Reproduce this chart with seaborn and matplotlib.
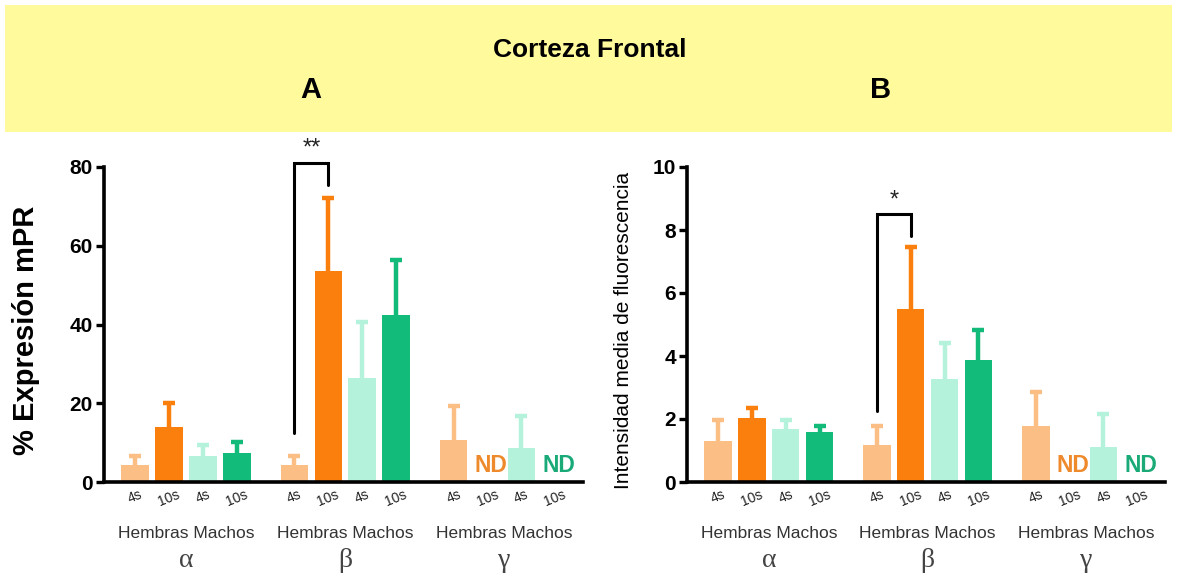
import numpy as np
import pandas as pd
import matplotlib
matplotlib.use("Agg")
import matplotlib.pyplot as plt
import matplotlib.transforms as mtransforms
from matplotlib import font_manager
from matplotlib.patches import Rectangle
import seaborn as sns

# ---- data ----
receptors = ["α", "β", "γ"]
sexes = ["Hembras", "Machos"]
times = ["4s", "10s", "4s", "10s"]
series = ["H-4s", "H-10s", "M-4s", "M-10s"]

# % expression of mPR (mean, upper SEM); NaN = not detected
mpr_mean = [4.2, 13.9, 6.6, 7.4, 4.4, 53.6, 26.3, 42.3, 10.7, np.nan, 8.6, np.nan]
mpr_err = [2.4, 6.1, 2.8, 2.7, 2.3, 18.6, 14.3, 14.0, 8.7, np.nan, 8.1, np.nan]

# mean fluorescence intensity (mean, upper SEM)
fluo_mean = [1.30, 2.03, 1.68, 1.60, 1.19, 5.50, 3.26, 3.86, 1.77, np.nan, 1.10, np.nan]
fluo_err = [0.67, 0.31, 0.30, 0.17, 0.60, 1.97, 1.14, 0.98, 1.09, np.nan, 1.06, np.nan]

# significance brackets: (from bar, to bar, label)
mpr_sig = (4, 5, "**")
fluo_sig = (4, 5, "*")

palette = {"H-4s": "#FBBE85", "H-10s": "#FA7F0C", "M-4s": "#B5F2DC", "M-10s": "#12BB7A"}
nd_colors = {"H-10s": "#EE8A2C", "M-10s": "#1AAA78"}

sns.set_theme(style="white")
avail = {f.name for f in font_manager.fontManager.ttflist}
sans = "Liberation Sans" if "Liberation Sans" in avail else "DejaVu Sans"
narrow = "Liberation Sans Narrow" if "Liberation Sans Narrow" in avail else sans
plt.rcParams["font.family"] = [sans, "DejaVu Sans"]
plt.rcParams["text.color"] = "black"
plt.rcParams["axes.labelcolor"] = "black"
plt.rcParams["xtick.color"] = "black"
plt.rcParams["ytick.color"] = "black"

n_bars = len(receptors) * len(series)
pos = np.arange(n_bars) + 0.7 * (np.arange(n_bars) // 4)
kind = [series[i % 4] for i in range(n_bars)]

fig = plt.figure(figsize=(11.77, 5.77), dpi=100)
fig.patch.set_facecolor("white")

# header band
fig.patches.append(Rectangle((5 / 1177, 1 - 132 / 577), 1167 / 1177, 127 / 577,
                             transform=fig.transFigure, facecolor="#FFFB9C",
                             edgecolor="none", zorder=0))
fig.text(0.501, 1 - 50 / 577, "Corteza Frontal", family=narrow, fontweight="bold",
         fontsize=19, ha="center", va="center", color="black")
fig.text(0.264, 1 - 90 / 577, "A", family=narrow, fontweight="bold", fontsize=21,
         ha="center", va="center", color="black")
fig.text(0.748, 1 - 90 / 577, "B", family=narrow, fontweight="bold", fontsize=21,
         ha="center", va="center", color="black")

ax_a = fig.add_axes([104 / 1177, 95 / 577, 479 / 1177, 315 / 577])
ax_b = fig.add_axes([687 / 1177, 95 / 577, 478 / 1177, 315 / 577])


def draw_panel(ax, means, errs, ymax, ystep, ylabel, label_bold, label_size,
               label_x, sig, nd_y):
    df = pd.DataFrame({"pos": pos, "value": means, "kind": kind})
    sns.barplot(data=df, x="pos", y="value", hue="kind", hue_order=series,
                palette=palette, native_scale=True, dodge=False, width=0.81,
                linewidth=0, saturation=1, legend=False, errorbar=None, ax=ax)
    for patch in ax.patches:
        patch.set_zorder(3)
    for p, m, e, k in zip(pos, means, errs, kind):
        if np.isnan(m):
            ax.text(p + 0.1, nd_y, "ND", color=nd_colors[k], fontweight="bold",
                    fontsize=16.5, ha="center", va="center")
            continue
        eb = ax.errorbar([p], [m], yerr=[[0], [e]], fmt="none", ecolor=palette[k],
                         elinewidth=3.2, capsize=4.3, capthick=3.2, zorder=1)
        # only the upper whisker carries a cap
        eb[1][0].set_visible(False)

    ax.set_xlim(-0.92, 13.22)
    ax.set_ylim(0, ymax)
    ax.set_yticks(np.arange(0, ymax + 0.01, ystep))
    ax.set_yticklabels([f"{v:g}" for v in np.arange(0, ymax + 0.01, ystep)],
                       fontweight="bold", fontsize=15)
    ax.tick_params(axis="y", direction="out", length=6, width=2.4, pad=2,
                   left=True, colors="black")
    ax.set_xticks(pos)
    ax.set_xticklabels([times[i % 4] for i in range(n_bars)], rotation=22,
                       fontsize=10, color="#222222")
    ax.tick_params(axis="x", length=0, pad=4)
    for lab in ax.get_xticklabels():
        lab.set_ha("center")
    ax.set_xlabel("")
    ax.set_ylabel(ylabel, fontweight="bold" if label_bold else "normal",
                  fontsize=label_size, color="black")
    ax.yaxis.set_label_coords(label_x, 0.48)
    sns.despine(ax=ax)
    for s in ("left", "bottom"):
        ax.spines[s].set_linewidth(2.6)
        ax.spines[s].set_color("black")
        ax.spines[s].set_zorder(4)
    ax.set_facecolor("white")
    ax.patch.set_alpha(0)

    trans = mtransforms.blended_transform_factory(ax.transData, ax.transAxes)
    for g, rec in enumerate(receptors):
        gp = pos[g * 4:(g + 1) * 4]
        ax.text(gp.mean(), -0.165, " ".join(sexes), transform=trans,
                ha="center", va="center", fontsize=12.5, color="#333333")
        ax.text(gp.mean(), -0.25, rec, transform=trans, ha="center",
                va="center", fontsize=20, color="#444444",
                family=["Liberation Serif", "DejaVu Serif"])

    i0, i1, txt = sig
    top, left_end, right_end, star_y = sig_geom[txt]
    ax.plot([pos[i0], pos[i0], pos[i1], pos[i1]],
            [left_end, top, top, right_end], color="black", lw=2.2,
            solid_joinstyle="miter", clip_on=False, zorder=5)
    ax.text((pos[i0] + pos[i1]) / 2, star_y, txt, ha="center", va="center",
            fontsize=17, color="#222222", clip_on=False)


sig_geom = {"**": (81.0, 12.4, 75.4, 84.6), "*": (8.5, 2.25, 7.8, 8.95)}

draw_panel(ax_a, mpr_mean, mpr_err, 80, 20, "% Expresión mPR", True, 21,
           -0.134, mpr_sig, 4.2)
draw_panel(ax_b, fluo_mean, fluo_err, 10, 2, "Intensidad media de fluorescencia",
           False, 15, -0.112, fluo_sig, 0.52)

fig.savefig("out.png", dpi=100, facecolor="white")
